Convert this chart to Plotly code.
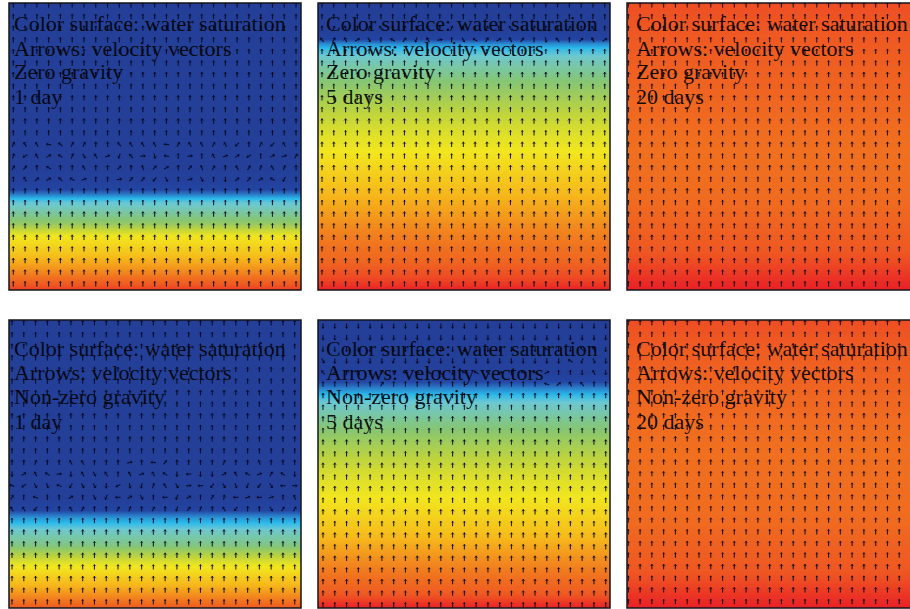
import math
import plotly.graph_objects as go

W, H = 910, 609

# Saturation profile of each panel: depth below panel top -> water saturation
depth_1 = [0, 165, 178, 186, 191, 195, 199, 207, 220, 233, 250, 268, 280, 287]
sat_1 = [0, 0, .02, .05, .12, .2, .26, .32, .43, .65, .72, .82, .9, .96]
depth_2 = [0, 27, 36, 41, 46, 55, 78, 108, 130, 148, 188, 228, 258, 278, 287]
sat_2 = [0, 0, .05, .15, .22, .29, .4, .52, .6, .65, .74, .83, .88, .95, 1]
depth_3 = [0, 28, 98, 148, 198, 248, 278, 287]
sat_3 = [.93, .91, .88, .86, .87, .91, .98, 1]
depth_4 = [0, 178, 190, 198, 203, 210, 225, 245, 265, 280, 288]
sat_4 = [0, 0, .05, .16, .21, .28, .38, .64, .75, .85, .91]
depth_5 = [0, 52, 62, 69, 75, 82, 102, 132, 157, 182, 212, 242, 272, 288]
sat_5 = [0, .01, .06, .14, .21, .27, .37, .5, .6, .66, .73, .82, .9, 1]
depth_6 = [0, 30, 100, 130, 200, 250, 280, 288]
sat_6 = [.93, .9, .87, .86, .87, .91, .98, 1]

# Arrow directions (degrees clockwise from up) where the flow is disturbed
turned_1 = {
    12: [25, -35, -30, -80, -50, 25, 25, 0, 0, -40, -30, -30, -30, -85, 30, -30, -30, 30, -30, 225, 0, 30, 225, -30, 0],
    13: [20, 240, -30, 60, -60, 20, 150, -30, 70, 200, -40, 85, 170, -80, 0, 80, 0, -30, 70, 60, 240, 0, 60, 70, 30],
    14: [30, 40, 0, -60, 0, 0, -30, 0, 0, 45, 0, -20, 40, 60, 0, 40, -20, 30, 0, -30, 30, 20, -30, 20, 0],
    15: [0, -30, 50, 60, -45, -60, 70, 0, 0, 80, 40, 40, 220, 150, 0, 70, 150, 0, 180, 50, 40, 60, -60, 210, 0],
}
turned_2 = {
    2: [0, 20, -20, 0, 30, -30, 0, 20, 0, -30, 0, 20, -20, 0, 30, 0, -30, 0, 20, 0, -20, 30, 0, -30, 0],
    3: [-40, 30, -30, 60, 150, 0, -60, 40, 200, -30, 80, 0, 150, -60, 30, 60, -30, 40, 0, 170, -40, 0, 50, -30, 60],
}
turned_4 = {
    12: [0, 0, 20, 0, 0, -30, -30, 0, 0, 0, 75, 0, -85, 40, 0, 0, 0, 0, 20, 0, 0, -20, 0, 0, 0],
    13: [180, 60, -30, -60, 85, 180, -30, 150, -30, 0, -30, 70, -30, -60, 180, -90, 180, 180, 60, -30, -60, 70, 30, -60, 180],
    14: [-70, 235, 150, 160, -70, 215, 150, 150, 180, 245, 170, 190, 20, -30, 150, 85, -90, 220, 150, 160, 200, 220, 150, -90, 90],
    15: [30, 0, -70, 0, 0, 60, 0, 150, 200, -90, 60, 150, 0, -90, 200, 60, 0, 30, 10, -90, 70, -90, 70, 0, -20],
    16: [-30, -30, 220, 0, 0, -30, 30, 0, 0, 30, 20, 0, 30, 0, 200, 40, 20, 0, -30, 220, 0, 0, 150, 30, 30],
}
turned_5 = {
    0: [180] * 25,
    1: [180] * 25,
    2: [180, 180, 180, 180, 180, 180, 180, 180, 180, 180, 180, 180, 180, 180, 180, 180, 180, 180, 180, -60, 180, 180, -40, -30, 180],
    3: [150, 180, 180, 180, 180, 180, 200, 180, 180, 180, 180, 180, 180, 180, 180, 180, 180, 180, 180, 180, 180, -60, 200, 160, 180],
    4: [-40, 60, 0, -30, 0, 30, 150, -80, -80, -60, -30, 180, -70, -60, -40, 80, 0, -60, -70, 60, 0, 0, 180, -30, 180],
    5: [0, 0, 0, 0, 0, 30, 0, 0, 0, 0, 0, 0, 0, 0, 0, 0, 0, 0, 0, -70, 50, -30, -40, 0, 0],
}
turned = [turned_1, turned_2, {}, turned_4, turned_5, {}]

labels_1 = ["Color surface: water saturation", "Arrows: velocity vectors", "Zero gravity", "1 day"]
labels_2 = ["Color surface: water saturation", "Arrows: velocity vectors", "Zero gravity", "5 days"]
labels_3 = ["Color surface: water saturation", "Arrows: velocity vectors", "Zero gravity", "20 days"]
labels_4 = ["Color surface: water saturation", "Arrows: velocity vectors", "Non-zero gravity", "1 day"]
labels_5 = ["Color surface: water saturation", "Arrows: velocity vectors", "Non-zero gravity", "5 days"]
labels_6 = ["Color surface: water saturation", "Arrows: velocity vectors", "Non-zero gravity", "20 days"]
labels = [labels_1, labels_2, labels_3, labels_4, labels_5, labels_6]

depths = [depth_1, depth_2, depth_3, depth_4, depth_5, depth_6]
sats = [sat_1, sat_2, sat_3, sat_4, sat_5, sat_6]

# layout: (left, right, top, bottom, first column, first row) in page pixels
boxes = [
    (9, 301, 3, 290, 13.3, 5),
    (318, 610, 3, 290, 322, 5),
    (627, 910, 3, 290, 628.3, 5),
    (9, 301, 320, 608, 12, 323),
    (318, 610, 320, 608, 323, 326),
    (627, 910, 320, 608, 628.3, 322.7),
]
COL, ROW = 11.78, 11.62
text_x = [14, 326, 636, 14, 326, 636]
line_offsets = [21, 45, 69, 93]
line_offsets_b = [28, 52, 76, 101]

colorscale = [
    [0, "#233f98"], [.05, "#2344a2"], [.12, "#2a7cc8"], [.2, "#29b8ea"], [.27, "#6cc8d2"],
    [.4, "#86c673"], [.52, "#bcd33f"], [.65, "#f2e61e"], [.75, "#f6b61b"],
    [.86, "#f0701f"], [.93, "#ee4e23"], [1, "#e91f26"],
]

fig = go.Figure()
annotations, shapes = [], []
for p, (l, r, t, b, cx, cy) in enumerate(boxes):
    sfx = "" if p == 0 else str(p + 1)
    xa, ya = "x" + sfx, "y" + sfx
    fig.add_trace(go.Heatmap(
        x=[0, r - l], y=depths[p], z=[[s, s] for s in sats[p]], zmin=0, zmax=1,
        colorscale=colorscale, zsmooth="best", showscale=False, xaxis=xa, yaxis=ya, hoverinfo="skip",
    ))
    xs, ys, angs, lx, ly = [], [], [], [], []
    for i in range(25):
        px = cx - l + i * COL
        if px > r - l:
            continue
        for j in range(25):
            py = cy - t + j * ROW
            if py > b - t:
                continue
            a = turned[p].get(j, [0] * 25)[i]
            ra = math.radians(a)
            L = 2.6
            dx, dy = L * math.sin(ra), -L * math.cos(ra)
            xs.append(px + dx)
            ys.append(py + dy)
            angs.append(a)
            lx += [px - dx, px + dx, None]
            ly += [py - dy, py + dy, None]
    fig.add_trace(go.Scatter(x=lx, y=ly, mode="lines", line=dict(color="rgba(5,5,25,.85)", width=1.1),
                             xaxis=xa, yaxis=ya, hoverinfo="skip"))
    fig.add_trace(go.Scatter(x=xs, y=ys, mode="markers", xaxis=xa, yaxis=ya, hoverinfo="skip",
                             marker=dict(symbol="arrow-wide", size=3.8, angle=angs, color="rgba(5,5,25,.9)", line_width=0)))
    common = dict(visible=False, showgrid=False, zeroline=False, fixedrange=True)
    fig.update_layout({
        ("xaxis" + sfx): dict(domain=[l / W, r / W], range=[0, r - l], anchor=ya, **common),
        ("yaxis" + sfx): dict(domain=[1 - b / H, 1 - t / H], range=[b - t, 0], anchor=xa, **common),
    })
    shapes.append(dict(type="rect", xref="paper", yref="paper", x0=l / W, x1=(r + (10 if p in (2, 5) else 0)) / W,
                       y0=1 - b / H, y1=1 - t / H, line=dict(color="#15151a", width=1.5), layer="above"))
    offs = line_offsets if p < 3 else line_offsets_b
    for k, s in enumerate(labels[p]):
        annotations.append(dict(x=text_x[p] / W, y=1 - (t + offs[k]) / H, xref="paper", yref="paper",
                                xanchor="left", yanchor="middle", text=s, showarrow=False, borderpad=0, borderwidth=0,
                                font=dict(family="Liberation Serif", size=22, color="rgba(5,5,10,.95)")))

fig.update_layout(width=W, height=H, margin=dict(l=0, r=0, t=0, b=0), paper_bgcolor="white",
                  plot_bgcolor="white", showlegend=False, annotations=annotations, shapes=shapes)
fig.write_html("out.html", config={"displayModeBar": False},
               post_script="document.body.style.margin='0';document.body.style.overflow='hidden';")
